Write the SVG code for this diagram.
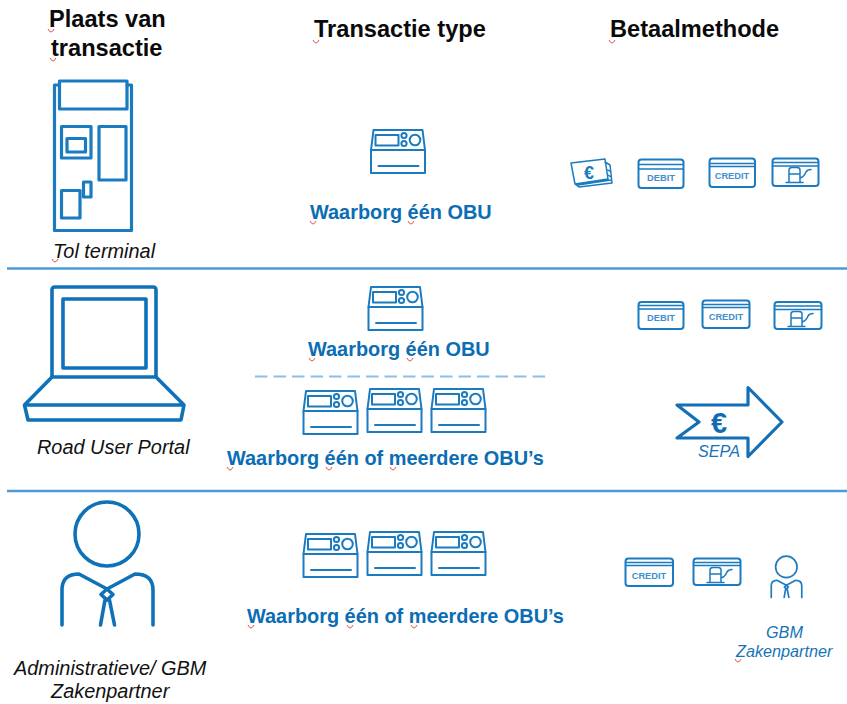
<svg xmlns="http://www.w3.org/2000/svg" width="847" height="704" viewBox="0 0 847 704">
<style>
.ic{fill:none;stroke:#1b7bc0;stroke-linejoin:round;stroke-linecap:round}
.t3{stroke-width:3.2}.t2{stroke-width:2}.t1{stroke-width:1.5}
text{font-family:"Liberation Sans",Arial,sans-serif}
.h{font-size:23.6px;font-weight:700;fill:#0a0a0a}
.b{font-size:19.9px;font-weight:700;fill:#0b6db3}
.c{font-size:19.9px;font-style:italic;fill:#111}
.s{font-size:16.2px;font-style:italic;fill:#1673b8}
.k{font-size:9.3px;font-weight:700;fill:#3f90cc;text-anchor:middle}
.sq{fill:none;stroke:#e8504a;stroke-width:1}
</style>
<defs>
<g id="obu" class="ic t2">
<path d="M3 0H52L54.500 20V43H.5V20Z"/><path d="M.5 20H54.500"/>
<rect x="5" y="5" width="23" height="10.500"/><circle cx="33.500" cy="5.500" r="2.600"/><circle cx="33.500" cy="13.500" r="2.600"/><circle cx="44.500" cy="10" r="5.300"/>
<path d="M8 36H48"/>
</g>
<g id="pump" class="ic t1">
<path d="M4 21V9Q4 6.500 7 6.500H12Q15 6.500 15 9V21M1 21.500H18M4 13H15M15 17Q19 16 21 11Q22.500 8.500 26 8.500"/>
</g>
<path id="sq" class="sq" d="M0 0Q1.500 3 3 3Q4.500 3 6 0"/>
</defs>

<g id="separators">
<path d="M7 268.500H847M7 491H847" stroke="#4c9ad9" stroke-width="2.600" fill="none"/>
<path d="M255 376.500H545" stroke="#8dbde8" stroke-width="2" stroke-dasharray="12.500 6" fill="none"/>
</g>

<g id="header">
<text class="h" x="49" y="27">Plaats van</text>
<text class="h" x="51" y="56">transactie</text>
<text class="h" x="314" y="37">Transactie type</text>
<text class="h" x="610" y="37">Betaalmethode</text>
<use href="#sq" x="48" y="29"/><use href="#sq" x="50" y="58"/><use href="#sq" x="313" y="40"/><use href="#sq" x="609" y="40"/>
</g>

<g id="tol-terminal">
<g class="ic t3">
<path d="M59 85H54.500V230.500H131.500V85H127"/>
<rect x="59.500" y="81" width="67.500" height="28"/>
<rect x="61.500" y="126.500" width="29.500" height="31.500"/>
<rect x="67" y="138.500" width="18.500" height="13.500"/>
<rect x="99" y="126.500" width="27" height="53.500"/>
<rect x="83.500" y="182" width="7.500" height="15"/>
<rect x="61.500" y="190.500" width="18.500" height="27.500"/>
</g>
<text class="c" x="53" y="258">Tol terminal</text>
<use href="#sq" x="52" y="259"/>
</g>

<g id="road-user-portal">
<g class="ic" style="stroke-width:3.600;stroke:#0f72b8">
<path d="M52 377V290Q52 287 55 287H153Q156 287 156 290V377"/>
<rect x="63" y="299" width="83" height="69"/>
<path d="M52 377H156L184 405L181 420H28L24.500 405ZM24.500 405H184"/>
</g>
<text class="c" x="37" y="454">Road User Portal</text>
</g>

<g id="administratieve">
<g class="ic" style="stroke-width:3.600;stroke:#0f72b8">
<circle cx="107" cy="534" r="32"/>
<path d="M62 625V590Q62 574 79 574L107 589L135 574Q153 574 153 590V625"/>
<path d="M107 589L113 594.500L107 600L101 594.500ZM105 600L100.500 625M109.500 600L114.500 625"/>
</g>
<text class="c" x="14" y="675">Administratieve/ GBM</text>
<text class="c" x="51" y="698">Zakenpartner</text>
</g>

<g id="row1-transactie">
<use href="#obu" x="370.500" y="130"/>
<text class="b" x="310" y="219">Waarborg één OBU</text>
<use href="#sq" x="310" y="221"/><use href="#sq" x="408" y="221"/>
</g>

<g id="row1-betaal">
<g id="cash" class="ic t1">
<path d="M571 163L605 159L608 179L575 184ZM605 162L610 165L612 183L579 187L575 184M608 170L611 172M608 175L611 177M578 185L611 180"/>
<text x="589" y="179" style="font-size:18px;font-weight:700;fill:#1b7bc0;stroke:none;text-anchor:middle">€</text>
</g>
<g id="debit1"><rect class="ic t2" x="638.500" y="159.500" width="45" height="28.500" rx="3"/><path class="ic t1" d="M639 164.500H683M639 169H683"/><text class="k" x="661" y="181">DEBIT</text></g>
<g id="credit1"><rect class="ic t2" x="709.500" y="158.500" width="45.500" height="28.500" rx="3"/><path class="ic t1" d="M710 163.500H755M710 166.500H755"/><text class="k" x="732" y="179">CREDIT</text></g>
<g id="fuel1"><rect class="ic t2" x="772.500" y="158.500" width="46" height="27.500" rx="3"/><path class="ic t1" d="M773 162.500H818M773 166H818"/><use href="#pump" x="785" y="161"/></g>
</g>

<g id="row2-transactie">
<use href="#obu" x="368" y="287"/>
<text class="b" x="308" y="356">Waarborg één OBU</text>
<use href="#sq" x="309" y="358"/><use href="#sq" x="407" y="358"/>
<use href="#obu" x="303" y="391"/><use href="#obu" x="367" y="389"/><use href="#obu" x="431" y="389"/>
<text class="b" x="227" y="465">Waarborg één of meerdere OBU’s</text>
<use href="#sq" x="227" y="467"/><use href="#sq" x="326" y="467"/><use href="#sq" x="390" y="467"/>
</g>

<g id="row2-betaal">
<g id="debit2"><rect class="ic t2" x="638.500" y="302" width="45" height="27" rx="3"/><path class="ic t1" d="M639 305.500H683M639 309H683"/><text class="k" x="661" y="321">DEBIT</text></g>
<g id="credit2"><rect class="ic t2" x="702.500" y="300.500" width="47" height="27.500" rx="3"/><path class="ic t1" d="M703 304.500H749M703 307.500H749"/><text class="k" x="726" y="320">CREDIT</text></g>
<g id="fuel2"><rect class="ic t2" x="774.500" y="302" width="47" height="27" rx="3"/><path class="ic t1" d="M775 306H821M775 309.500H821"/><use href="#pump" x="787" y="305"/></g>
<g id="sepa">
<path class="ic" style="stroke-width:3.200;stroke:#136fb6" d="M677 405H748V387.500L782 422L748 456.500V438H677L699 422Z"/>
<text x="719" y="433" style="font-size:29px;font-weight:700;fill:#0f6cb2;text-anchor:middle">€</text>
<text class="s" x="698" y="457">SEPA</text>
</g>
</g>

<g id="row3-transactie">
<use href="#obu" x="303" y="534"/><use href="#obu" x="367" y="532"/><use href="#obu" x="431" y="532"/>
<text class="b" x="247" y="623">Waarborg één of meerdere OBU’s</text>
<use href="#sq" x="248" y="625"/><use href="#sq" x="347" y="625"/><use href="#sq" x="411" y="625"/>
</g>

<g id="row3-betaal">
<g id="credit3"><rect class="ic t2" x="625.500" y="558.500" width="47.500" height="27.500" rx="3"/><path class="ic t1" d="M626 562.500H673M626 565.500H673"/><text class="k" x="649" y="579">CREDIT</text></g>
<g id="fuel3"><rect class="ic t2" x="693.500" y="558.500" width="47" height="26.500" rx="3"/><path class="ic t1" d="M694 562.500H740M694 565.500H740"/><use href="#pump" x="706" y="561"/></g>
<g id="gbm-partner">
<g class="ic" style="stroke-width:5" transform="translate(750.500 388) scale(.335)">
<circle cx="107" cy="534" r="32"/>
<path d="M62 625V590Q62 574 79 574L107 589L135 574Q153 574 153 590V625"/>
<path d="M107 589L113 594.500L107 600L101 594.500ZM105 600L100.500 625M109.500 600L114.500 625"/>
</g>
<text class="s" x="766" y="638">GBM</text>
<text class="s" x="736" y="657">Zakenpartner</text>
<use href="#sq" x="735" y="659"/>
</g>
</g>
</svg>
